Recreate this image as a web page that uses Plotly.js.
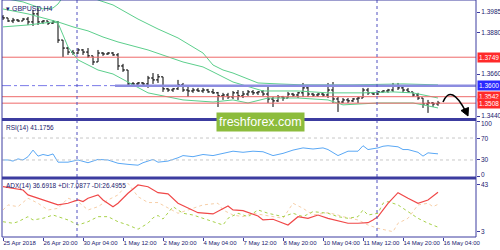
<!DOCTYPE html>
<html><head><meta charset="utf-8">
<script src="https://cdn.plot.ly/plotly-3.0.1.min.js"></script>
<style>html,body{margin:0;padding:0;background:#fff}#chart{width:500px;height:250px}</style>
</head><body><div id="chart"></div>
<script>
// ---------- data ----------
const symbolLabel = "\u25BE GBPUSD,H4";
const barOpen  = [1.3960,1.3955,1.3939,1.3944,1.3939,1.3949,1.3934,1.3976,1.3934,1.3939,1.3928,1.3934,1.3839,1.3797,1.3776,1.3771,1.3787,1.3776,1.3756,1.3724,1.3771,1.3766,1.3771,1.3761,1.3703,1.3682,1.3609,1.3609,1.3614,1.3609,1.3640,1.3630,1.3646,1.3583,1.3577,1.3583,1.3604,1.3577,1.3572,1.3577,1.3572,1.3577,1.3567,1.3562,1.3546,1.3551,1.3541,1.3562,1.3546,1.3556,1.3567,1.3562,1.3567,1.3556,1.3530,1.3520,1.3541,1.3535,1.3556,1.3551,1.3562,1.3588,1.3556,1.3551,1.3556,1.3551,1.3577,1.3530,1.3514,1.3525,1.3520,1.3530,1.3535,1.3577,1.3562,1.3556,1.3567,1.3572,1.3577,1.3598,1.3588,1.3577,1.3567,1.3551,1.3535,1.3504,1.3509,1.3504];
const barHigh  = [1.3970,1.3955,1.3955,1.3949,1.3955,1.3960,1.3997,1.4007,1.3944,1.3939,1.3944,1.3939,1.3839,1.3803,1.3787,1.3797,1.3792,1.3797,1.3756,1.3787,1.3776,1.3776,1.3776,1.3771,1.3714,1.3682,1.3619,1.3619,1.3619,1.3651,1.3666,1.3661,1.3646,1.3588,1.3588,1.3630,1.3614,1.3593,1.3588,1.3588,1.3588,1.3583,1.3583,1.3567,1.3562,1.3562,1.3572,1.3577,1.3572,1.3577,1.3577,1.3572,1.3577,1.3593,1.3541,1.3551,1.3546,1.3567,1.3562,1.3567,1.3614,1.3593,1.3562,1.3562,1.3562,1.3614,1.3619,1.3541,1.3535,1.3535,1.3535,1.3541,1.3588,1.3588,1.3567,1.3572,1.3577,1.3583,1.3614,1.3614,1.3593,1.3588,1.3567,1.3562,1.3535,1.3525,1.3514,1.3520];
const barLow   = [1.3944,1.3934,1.3928,1.3934,1.3939,1.3918,1.3913,1.3918,1.3923,1.3918,1.3923,1.3824,1.3750,1.3761,1.3761,1.3766,1.3761,1.3745,1.3708,1.3724,1.3756,1.3761,1.3756,1.3682,1.3672,1.3593,1.3598,1.3598,1.3604,1.3588,1.3609,1.3614,1.3567,1.3567,1.3567,1.3577,1.3567,1.3541,1.3562,1.3567,1.3562,1.3562,1.3556,1.3488,1.3525,1.3530,1.3530,1.3525,1.3535,1.3546,1.3551,1.3551,1.3546,1.3509,1.3488,1.3514,1.3520,1.3535,1.3541,1.3535,1.3541,1.3541,1.3541,1.3541,1.3541,1.3535,1.3509,1.3462,1.3509,1.3509,1.3514,1.3509,1.3535,1.3551,1.3551,1.3551,1.3562,1.3562,1.3567,1.3577,1.3562,1.3562,1.3541,1.3525,1.3483,1.3457,1.3488,1.3494];
const barClose = [1.3955,1.3939,1.3944,1.3939,1.3949,1.3934,1.3976,1.3934,1.3939,1.3928,1.3934,1.3839,1.3797,1.3776,1.3771,1.3787,1.3776,1.3756,1.3724,1.3771,1.3766,1.3771,1.3761,1.3703,1.3682,1.3609,1.3609,1.3614,1.3609,1.3640,1.3630,1.3646,1.3583,1.3577,1.3583,1.3604,1.3577,1.3572,1.3577,1.3572,1.3577,1.3567,1.3562,1.3546,1.3551,1.3541,1.3562,1.3546,1.3556,1.3567,1.3562,1.3567,1.3556,1.3530,1.3520,1.3541,1.3535,1.3556,1.3551,1.3562,1.3588,1.3556,1.3551,1.3556,1.3551,1.3577,1.3530,1.3514,1.3525,1.3520,1.3530,1.3535,1.3577,1.3562,1.3556,1.3567,1.3572,1.3577,1.3598,1.3588,1.3577,1.3567,1.3551,1.3535,1.3504,1.3509,1.3504,1.3509];

const timeTickIdx  = [0,8,16,24,32,40,48,56,64,72,80,88];
const timeTickText = ["25 Apr 2018","26 Apr 20:00","30 Apr 04:00","1 May 12:00","2 May 20:00","4 May 04:00","7 May 12:00","8 May 20:00","10 May 04:00","11 May 12:00","14 May 20:00","16 May 04:00"];

const bbUpperX = [0,4,8,10,11,12,14,17,19,22,27,31,35,40,42,44,46,51,55,60,70,80,87];
const bbUpper  = [1.4059,1.4039,1.4002,1.4007,1.4028,1.4065,1.4091,1.4080,1.4049,1.4023,1.3949,1.3897,1.3850,1.3771,1.3708,1.3682,1.3666,1.3614,1.3609,1.3604,1.3604,1.3609,1.3604];
const bbMiddleX = [0,5,11,14,17,20,23,29,36,40,42,46,52,59,65,72,78,82,85,87];
const bbMiddle  = [1.4002,1.3976,1.3934,1.3908,1.3887,1.3855,1.3829,1.3787,1.3724,1.3698,1.3672,1.3619,1.3572,1.3572,1.3562,1.3562,1.3567,1.3562,1.3546,1.3535];
const bbLowerX = [0,5,10,11,12,13,15,19,22,25,29,36,42,46,49,53,59,65,68,75,82,84,87];
const bbLower  = [1.3908,1.3918,1.3934,1.3928,1.3866,1.3803,1.3735,1.3682,1.3661,1.3619,1.3562,1.3525,1.3514,1.3525,1.3509,1.3535,1.3535,1.3525,1.3499,1.3509,1.3509,1.3499,1.3483];

const rsiX   = [0,1,2,3,4,5,6,7,8,9,10,11,13,15,17,19,21,23,25,27,28,30,31,33,35,36,38,40,42,44,46,48,50,52,54,56,58,60,62,64,65,67,69,71,72,73,75,76,77,79,80,81,83,84,85,86,87];
const rsiVal = [30,30,28,32,30,36,48,37,40,38,41,26,26,30,25,31,30,24,22,20.5,25,31,26,28,34,38,36,40,38,42,46,44,46,45,38,42,48,52,50,52,49,38,46,46,56,49,52,55,56,54,49,49,44,37,43,42,41.18];

const adxX   = [0,2,4,5,8,11,13,15,16,17,19,20,22,23,25,27,29,31,33,35,39,42,45,46,48,51,52,54,57,59,61,63,65,67,69,71,73,74,75,77,79,81,83,85,86,87];
const adxVal = [41.5,40.2,38.7,34.5,30.2,26,27.4,30.2,28.8,31.7,34.5,30.2,24.5,27.4,35.9,43,41.5,36.4,35.4,27.4,19.4,18.3,25.1,21.7,21.1,16.6,13.2,13.8,8.9,16,14.6,17.4,14.6,12.6,10.4,10.4,10.9,13.2,16,27.4,36.4,31.7,27.4,30.2,33.6,36.69];
const pdiX   = [0,2,3,5,6,8,10,13,15,17,19,21,23,25,27,29,30,31,32,34,36,38,40,42,44,45,47,49,51,53,56,58,60,62,65,67,69,71,72,73,75,76,77,79,81,83,85,87];
const pdiVal = [11.7,10.4,11.7,16,13.2,14.6,17.4,13.2,8.9,11.7,16,16,11.7,8.9,5.3,10.4,15,17,14,24.5,18.9,17.4,14.6,11.7,8.9,14.6,18.9,16,21.7,18.9,16,18.9,16,20.3,18.9,16,14.6,16,21.7,17.4,18.9,27.4,28.8,26,20.3,14.6,10.4,7.09];
const mdiX   = [0,1,3,5,7,9,11,13,15,17,19,21,23,25,27,29,31,33,35,37,40,43,44,46,48,50,52,54,56,58,60,62,64,65,67,68,71,73,75,78,79,81,83,85,86,87];
const mdiVal = [21.7,26,24.5,31.7,27.4,21.7,23.1,31.7,28.8,21.7,24.5,30.2,34.5,44.4,33,28,28,23.1,18.9,21.7,26,27.4,21.7,17.4,16,18.9,17.4,16,14.6,27.4,23.1,17.4,18.9,19.4,17.4,16,13.2,8.9,6.1,3.2,10.4,14.6,26,27.4,24.5,26.5];

const redLevels  = [1.3749, 1.3542, 1.3508];
const blueLevel  = 1.3600;
const priceTicks = [1.3985, 1.3880, 1.3660, 1.3440];
const rsiTicks   = [100, 70, 30, 0];
const rsiLevels  = [70, 30];
const adxTicks   = [43, 3];
const dayMarks   = [14.8, 74.8];
const rsiLabel = "RSI(14) 41.1756";
const adxLabel = "ADX(14) 36.6918 +DI:7.0877 -DI:26.4955";
const watermark = "freshforex.com";

// ---------- styling / layout ----------
const NAVY = "#3c3ca0", TXT = "#20206e", FONT = "Liberation Sans";
const px = x => (x - 2) / 474, py = y => (237 - y) / 237;   // pixel -> paper helpers
const barIdx = barOpen.map((_, i) => i);

const traces = [
  {type:"scatter", mode:"lines", x:bbUpperX, y:bbUpper, xaxis:"x", yaxis:"y", line:{color:"#5ccf8c", width:1}, hoverinfo:"skip"},
  {type:"scatter", mode:"lines", x:bbMiddleX, y:bbMiddle, xaxis:"x", yaxis:"y", line:{color:"#5ccf8c", width:1}, hoverinfo:"skip"},
  {type:"scatter", mode:"lines", x:bbLowerX, y:bbLower, xaxis:"x", yaxis:"y", line:{color:"#5ccf8c", width:1}, hoverinfo:"skip"},
  {type:"ohlc", x:barIdx, open:barOpen, high:barHigh, low:barLow, close:barClose, xaxis:"x", yaxis:"y", tickwidth:0.4,
   increasing:{line:{color:"#000", width:1}}, decreasing:{line:{color:"#000", width:1}}, hoverinfo:"skip"},
  {type:"scatter", mode:"lines", x:rsiX, y:rsiVal, xaxis:"x", yaxis:"y2", line:{color:"#5aa8f5", width:1}, hoverinfo:"skip"},
  {type:"scatter", mode:"lines", x:mdiX, y:mdiVal, xaxis:"x", yaxis:"y3", line:{color:"#f7cfa8", width:1, dash:"dot"}, hoverinfo:"skip"},
  {type:"scatter", mode:"lines", x:pdiX, y:pdiVal, xaxis:"x", yaxis:"y3", line:{color:"#a8d24a", width:1, dash:"dot"}, hoverinfo:"skip"},
  {type:"scatter", mode:"lines", x:adxX, y:adxVal, xaxis:"x", yaxis:"y3", line:{color:"#f04848", width:1.2}, hoverinfo:"skip"}
];

const shapes = [];
redLevels.forEach(v => shapes.push({type:"line", xref:"paper", yref:"y", x0:0, x1:1, y0:v, y1:v, line:{color:"#ee6a6a", width:1}}));
shapes.push({type:"line", xref:"paper", yref:"y", x0:0, x1:1, y0:blueLevel, y1:blueLevel, line:{color:"#7a7ae8", width:1, dash:"dashdot"}});
shapes.push({type:"line", xref:"x", yref:"y", x0:22.4, x1:94.6, y0:blueLevel, y1:blueLevel, line:{color:"#8c8ce0", width:2.5}});
rsiLevels.forEach(v => shapes.push({type:"line", xref:"paper", yref:"y2", x0:0, x1:1, y0:v, y1:v, line:{color:"#c8c8c8", width:1, dash:"dot"}}));
dayMarks.forEach(v => shapes.push({type:"line", xref:"x", yref:"paper", x0:v, x1:v, y0:0, y1:1, line:{color:"#5050c0", width:1, dash:"dot"}}));
shapes.push({type:"rect", xref:"paper", yref:"paper", x0:0, x1:1, y0:0, y1:1, line:{color:NAVY, width:1}});
shapes.push({type:"line", xref:"paper", yref:"paper", x0:0, x1:1, y0:py(119.5), y1:py(119.5), line:{color:NAVY, width:3}});
shapes.push({type:"line", xref:"paper", yref:"paper", x0:0, x1:1, y0:py(178), y1:py(178), line:{color:NAVY, width:3}});
shapes.push({type:"path", xref:"paper", yref:"paper",
  path:`M ${px(443)},${py(102)} Q ${px(451)},${py(83)} ${px(466)},${py(112)}`, line:{color:"#000", width:1.5}});
shapes.push({type:"path", xref:"paper", yref:"paper",
  path:`M ${px(468)},${py(116)} L ${px(461)},${py(110.5)} L ${px(468.5)},${py(107.5)} Z`, fillcolor:"#000", line:{color:"#000", width:1}});

const ann = [];
const priceBox = (v, bg) => ({xref:"paper", yref:"y", x:1.003, y:v, xanchor:"left", yanchor:"middle", text:v.toFixed(4), showarrow:false,
  bgcolor:bg, borderpad:1, font:{family:FONT, size:6.5, color:"#fff"}});
ann.push(priceBox(1.3749, "#ff2a2a"));
ann.push(priceBox(1.3542, "#ff2a2a"));
ann.push(priceBox(1.3508, "#ff2a2a"));
ann.push(priceBox(blueLevel, "#2a2aff"));
rsiTicks.forEach(v => ann.push({xref:"paper", yref:"y2", x:1.006, y:v, xanchor:"left", yanchor:"middle", text:String(v), showarrow:false,
  yshift: v === 100 ? -2 : (v === 0 ? 2 : 0), font:{family:FONT, size:6.5, color:TXT}}));
adxTicks.forEach(v => ann.push({xref:"paper", yref:"y3", x:1.006, y:v, xanchor:"left", yanchor:"middle", text:String(v), showarrow:false,
  font:{family:FONT, size:6.5, color:TXT}}));
ann.push({xref:"paper", yref:"paper", x:px(4), y:py(3), xanchor:"left", yanchor:"top", text:symbolLabel, showarrow:false, font:{family:FONT, size:7, color:TXT}});
ann.push({xref:"paper", yref:"paper", x:px(4), y:py(122), xanchor:"left", yanchor:"top", text:rsiLabel, showarrow:false, font:{family:FONT, size:6.5, color:TXT}});
ann.push({xref:"paper", yref:"paper", x:px(4), y:py(180), xanchor:"left", yanchor:"top", text:adxLabel, showarrow:false, font:{family:FONT, size:6.5, color:TXT}});
ann.push({xref:"paper", yref:"paper", x:px(260), y:py(121.5), xanchor:"center", yanchor:"middle", text:watermark, showarrow:false,
  bgcolor:"#8cbc3c", borderpad:2, font:{family:FONT, size:12.5, color:"#fff"}});

const axisFont = {family:FONT, size:6.5, color:TXT};
const layout = {
  width:500, height:250, margin:{l:2, r:24, t:0, b:13},
  paper_bgcolor:"#fff", plot_bgcolor:"#fff", showlegend:false,
  xaxis:{range:[-0.2, 94.6], anchor:"y3", tickvals:timeTickIdx, ticktext:timeTickText, ticks:"outside", ticklen:3, tickcolor:NAVY,
    tickangle:0, ticklabelposition:"outside right", tickfont:{family:FONT, size:6, color:TXT}, showgrid:false, zeroline:false, showline:false,
    rangeslider:{visible:false}, fixedrange:true, automargin:false},
  yaxis:{domain:[py(119), 1], range:[1.3425, 1.4049], side:"right", anchor:"x", tickvals:priceTicks, ticktext:priceTicks.map(v=>v.toFixed(4)),
    ticks:"outside", ticklen:3, tickcolor:NAVY, tickfont:axisFont, showgrid:false, zeroline:false, showline:false, automargin:false},
  yaxis2:{domain:[py(177), py(121)], range:[-1, 101], side:"right", anchor:"x", tickvals:rsiTicks, ticks:"outside", ticklen:3, tickcolor:NAVY,
    showticklabels:false, showgrid:false, zeroline:false, showline:false},
  yaxis3:{domain:[0, py(180)], range:[-1.3, 47.2], side:"right", anchor:"x", tickvals:adxTicks, ticks:"outside", ticklen:3, tickcolor:NAVY,
    showticklabels:false, showgrid:false, zeroline:false, showline:false},
  shapes:shapes, annotations:ann
};
Plotly.newPlot("chart", traces, layout, {staticPlot:true, displayModeBar:false});
</script></body></html>
